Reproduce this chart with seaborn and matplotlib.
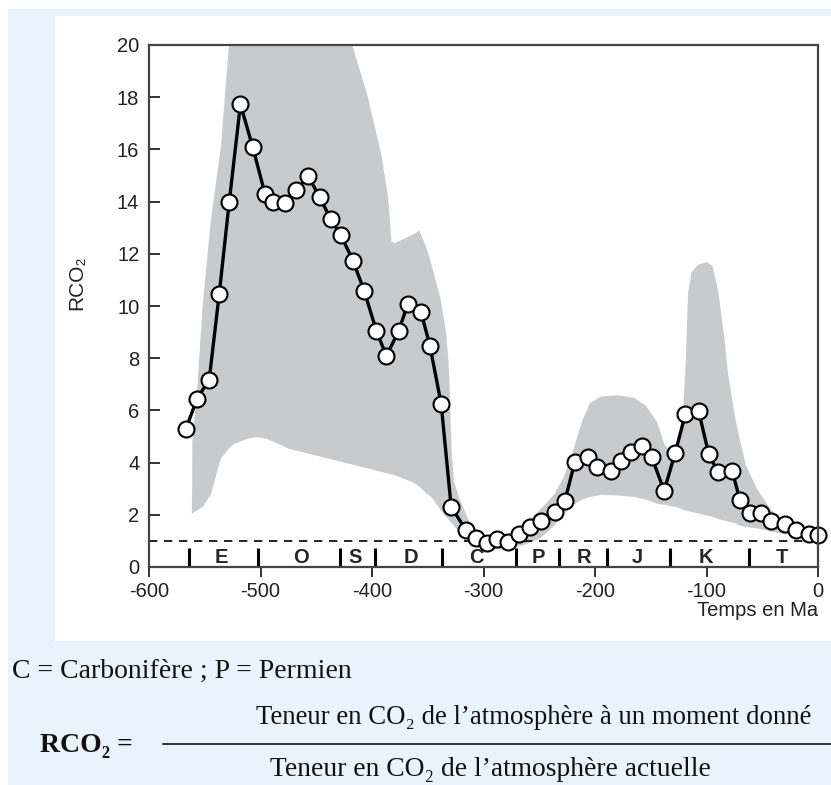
import numpy as np
import pandas as pd
import matplotlib
matplotlib.use("Agg")
import matplotlib.pyplot as plt
import seaborn as sns
from matplotlib.patches import Rectangle
from matplotlib.lines import Line2D

# ---------------- data ----------------
age_ma = [-567, -557, -546, -537, -528, -518, -507, -496, -489, -478, -468, -457,
          -447, -437, -428, -417, -407, -396, -387, -376, -368, -356, -348, -338,
          -329, -316, -307, -297, -288, -278, -268, -258, -248, -236, -227, -218,
          -206, -198, -186, -177, -168, -158, -149, -138, -128, -119, -107, -98,
          -90, -77, -70, -61, -51, -42, -30, -20, -8, 0]
rco2 = [5.28, 6.44, 7.18, 10.47, 14.0, 17.73, 16.09, 14.3, 14.0, 13.95, 14.46, 14.97,
        14.17, 13.33, 12.72, 11.73, 10.58, 9.04, 8.08, 9.06, 10.06, 9.77, 8.46, 6.26,
        2.31, 1.43, 1.13, 0.93, 1.07, 0.96, 1.26, 1.54, 1.77, 2.12, 2.54, 4.04,
        4.2, 3.82, 3.69, 4.07, 4.4, 4.65, 4.2, 2.92, 4.38, 5.86, 5.96, 4.33,
        3.65, 3.68, 2.57, 2.08, 2.08, 1.76, 1.63, 1.43, 1.28, 1.24]

band_x = [-562, -561.5, -557, -552, -545, -536, -529, -524, -512,
          -504, -495, -475, -445, -418, -404, -392, -386, -383, -380, -364, -358,
          -352, -347, -339, -334, -332, -331, -329, -327, -322, -313, -307, -300,
          -295, -290, -285, -280, -275, -265, -250, -237, -228, -220, -212, -205,
          -195, -180, -165, -155, -145, -138, -132, -126, -122, -119, -117, -114,
          -108, -100, -95, -90, -85, -81, -75, -70, -65, -55, -43, -31, -16, 0]
band_high = [2.05, 4.8, 7.0, 10.2, 13.3, 16.1, 19.9, 21, 21,
             21, 21, 21, 21, 20.0, 18.0, 15.8, 14.2, 12.5, 12.43, 12.75, 12.9,
             12.3, 11.6, 10.3, 9.0, 8.0, 7.1, 4.5, 3.3, 2.63, 1.73, 1.22, 1.05,
             1.0, 1.0, 1.05, 1.15, 1.3, 1.6, 2.2, 2.8, 3.5, 4.5, 5.6, 6.3,
             6.55, 6.6, 6.5, 6.2, 5.6, 4.7, 4.4, 4.6, 5.5, 8.0, 10.5, 11.3,
             11.6, 11.7, 11.55, 10.6, 9.0, 7.4, 5.8, 4.8, 3.9, 3.0, 2.24, 1.73, 1.35, 1.15]
band_low = [2.05, 2.07, 2.2, 2.33, 2.8, 4.17, 4.55, 4.74, 4.93,
            5.0, 4.93, 4.55, 4.23, 3.94, 3.8, 3.66, 3.6, 3.57, 3.53, 3.27, 3.1,
            2.85, 2.7, 2.2, 1.95, 1.85, 1.8, 1.7, 1.6, 1.35, 1.09, 0.9, 0.78,
            0.72, 0.7, 0.7, 0.72, 0.75, 0.85, 1.1, 1.6, 2.1, 2.4, 2.6, 2.7,
            2.78, 2.76, 2.7, 2.6, 2.45, 2.4, 2.35, 2.3, 2.22, 2.18, 2.16, 2.13,
            2.07, 1.99, 1.94, 1.86, 1.8, 1.76, 1.7, 1.6, 1.55, 1.5, 1.38, 1.28, 1.2, 1.15]

periods = ["E", "O", "S", "D", "C", "P", "R", "J", "K", "T"]
period_label_x = [-535, -464, -415, -365, -306, -251, -210, -162, -101, -32]
period_bounds = [-564, -502, -429, -397, -337, -271, -232, -189, -133, -62]

x_ticks = [-600, -500, -400, -300, -200, -100, 0]
y_ticks = [0, 2, 4, 6, 8, 10, 12, 14, 16, 18, 20]
reference_level = 1.0

# ---------------- style ----------------
sns.set_theme(style="ticks")
SANS = ["Liberation Sans", "DejaVu Sans"]
SERIF = ["Liberation Serif", "DejaVu Serif"]
plt.rcParams["font.family"] = SANS

W, H = 831, 785
fig = plt.figure(figsize=(W / 100, H / 100), dpi=100)
fig.patch.set_facecolor("white")

def px_rect(x0, y0, x1, y1, color):
    fig.add_artist(Rectangle((x0 / W, 1 - y1 / H), (x1 - x0) / W, (y1 - y0) / H,
                             transform=fig.transFigure, facecolor=color,
                             edgecolor="none", zorder=-10))

px_rect(8, 9, W, H, "#e8f3fb")
px_rect(55, 16, W, 641, "white")

ax = fig.add_axes([149 / W, 1 - 567 / H, 669 / W, 522 / H])
ax.set_facecolor("white")

ax.fill_between(band_x, band_low, band_high, color="#c9cacc", linewidth=0, zorder=1)

df = pd.DataFrame({"age": age_ma, "rco2": rco2})
sns.lineplot(data=df, x="age", y="rco2", ax=ax, color="black", linewidth=2.4,
             marker="o", markersize=11.5, markerfacecolor="white",
             markeredgecolor="black", markeredgewidth=1.5, sort=False,
             zorder=5, clip_on=False)

ax.axhline(reference_level, color="black", linewidth=1.2, dashes=(5, 4), zorder=3)

for b in period_bounds:
    ax.plot([b, b], [0, 0.72], color="black", linewidth=2.2, zorder=4,
            solid_capstyle="butt")
for lab, xp in zip(periods, period_label_x):
    ax.text(xp, 0.36, lab, ha="center", va="center", fontsize=14.5,
            fontweight="bold", family=SANS, zorder=4)

ax.set_xlim(-600, 0)
ax.set_ylim(0, 20)
ax.set_xticks(x_ticks)
ax.set_yticks(y_ticks)
ax.set_xticklabels([str(v) for v in x_ticks], fontsize=14.5, family=SANS)
ax.set_yticklabels([str(v) for v in y_ticks], fontsize=14.5, family=SANS)
ax.tick_params(axis="y", direction="in", length=8, width=1.4, pad=7, colors="#333333",
               labelcolor="#222222")
ax.tick_params(axis="x", direction="out", length=7, width=1.4, pad=4, colors="#333333",
               labelcolor="#222222")
for s in ax.spines.values():
    s.set_visible(True)
    s.set_linewidth(1.6)
    s.set_color("#444444")
    s.set_zorder(6)

ax.set_xlabel("")
ax.set_ylabel("")
ax.text((77 - 149) / 669, (567 - 283) / 522, "RCO₂", transform=ax.transAxes,
        rotation=90, ha="center", va="center", fontsize=15, family=SANS,
        color="#222222")
ax.text(1.0, -(610 - 567) / 522, "Temps en Ma", transform=ax.transAxes, ha="right",
        va="center", fontsize=14.5, family=SANS, color="#222222")

# ---------------- caption ----------------
def ftext(xp, yp, s, **kw):
    fig.text(xp / W, 1 - yp / H, s, **kw)

ftext(12, 671, "C = Carbonifère ; P = Permien", ha="left", va="center",
      fontsize=20, family=SERIF, color="#111111")
ftext(40, 746, "RCO₂ =", ha="left", va="center", fontsize=20, fontweight="bold",
      family=SERIF, color="#111111")
ftext(256, 717, "Teneur en CO₂ de l’atmosphère à un moment donné", ha="left",
      va="center", fontsize=19.3, family=SERIF, color="#111111")
ftext(270, 770, "Teneur en CO₂ de l’atmosphère actuelle", ha="left",
      va="center", fontsize=19.8, family=SERIF, color="#111111")
fig.add_artist(Line2D([163 / W, 1.0], [1 - 744 / H, 1 - 744 / H],
                      transform=fig.transFigure, color="#222222", linewidth=1.3))

fig.savefig("out.png", dpi=100)
